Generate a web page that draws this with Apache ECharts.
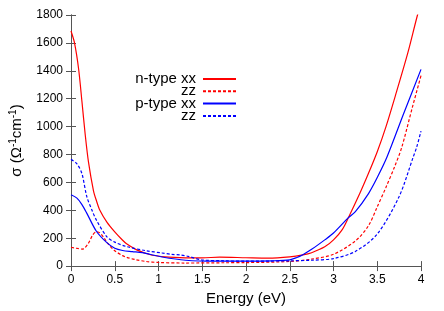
<!DOCTYPE html>
<html><head><meta charset="utf-8">
<script src="https://cdn.jsdelivr.net/npm/echarts@6/dist/echarts.min.js"></script>
<style>html,body{margin:0;padding:0;background:#fff}#c{width:444px;height:311px}</style>
</head><body><div id="c"></div>
<script>
const xTicks = [0, 0.5, 1, 1.5, 2, 2.5, 3, 3.5, 4];
const yTicks = [0, 200, 400, 600, 800, 1000, 1200, 1400, 1600, 1800];
const seriesNames = ['n-type xx', 'n-type zz', 'p-type xx', 'p-type zz'];
const legendLabels = ['n-type xx', 'zz', 'p-type xx', 'zz'];

const nTypeXX = [[0,1685],[0.04,1600],[0.087,1413],[0.125,1180],[0.162,945],[0.2,745],[0.257,540],[0.29,470],[0.33,400],[0.41,315],[0.5,245],[0.59,185],[0.635,160],[0.74,120],[0.86,90],[0.93,78],[1.12,65],[1.5,59],[1.7,64],[2.0,60],[2.25,57],[2.5,66],[2.65,80],[2.75,96],[2.9,138],[3.0,188],[3.1,262],[3.17,347],[3.3,520],[3.4,665],[3.5,820],[3.6,1000],[3.72,1249],[3.85,1530],[3.96,1800],[4.0,1880]];
const nTypeZZ = [[0,135],[0.06,128],[0.13,122],[0.2,165],[0.25,225],[0.29,245],[0.33,238],[0.38,200],[0.43,155],[0.5,110],[0.59,75],[0.635,63],[0.74,46],[0.86,33],[1.0,26],[1.3,22],[1.75,24],[2.0,25],[2.5,33],[2.75,50],[3.0,85],[3.25,180],[3.4,290],[3.5,425],[3.6,565],[3.7,715],[3.78,851],[3.9,1135],[4.0,1365]];
const pTypeXX = [[0,511],[0.068,487],[0.125,441],[0.18,380],[0.29,250],[0.41,168],[0.5,128],[0.59,112],[0.7,104],[0.815,96],[0.9,85],[1.04,65],[1.31,42],[1.64,35],[2.0,35],[2.3,38],[2.5,45],[2.575,60],[2.65,82],[2.75,120],[2.9,188],[3.0,237],[3.17,347],[3.25,390],[3.4,520],[3.5,635],[3.61,780],[3.8,1090],[4.0,1410]];
const pTypeZZ = [[0,765],[0.068,733],[0.125,663],[0.18,500],[0.24,400],[0.29,330],[0.41,210],[0.5,172],[0.635,140],[0.86,110],[1.04,94],[1.15,84],[1.25,80],[1.34,70],[1.49,45],[1.75,38],[2.0,35],[2.5,38],[2.75,42],[3.0,54],[3.25,105],[3.5,230],[3.75,499],[3.91,780],[3.95,851],[4.0,968]];

const allData = [nTypeXX, nTypeZZ, pTypeXX, pTypeZZ];
const colors = ['#ff0000', '#ff0000', '#0000ff', '#0000ff'];
const dashed = [false, true, false, true];
const axisColor = '#555';
const font = 'Liberation Sans, Arial, sans-serif';

const chart = echarts.init(document.getElementById('c'));
const xBase = {type:'value', min:xTicks[0], max:xTicks[xTicks.length-1], interval:0.5,
  axisLine:{show:true, lineStyle:{color:axisColor, width:1}},
  axisTick:{show:true, inside:true, length:5, lineStyle:{color:axisColor}},
  splitLine:{show:false}};
const yBase = {type:'value', min:yTicks[0], max:yTicks[yTicks.length-1], interval:200,
  axisLine:{show:true, lineStyle:{color:axisColor, width:1}},
  axisTick:{show:true, inside:true, length:5, lineStyle:{color:axisColor}},
  splitLine:{show:false}};

const legends = seriesNames.map((n, i) => ({
  data:[n], orient:'vertical', align:'right', right:207, top:71.5 + i*12.3,
  padding:0, itemWidth:33, itemHeight:8, itemGap:0,
  formatter: () => legendLabels[i],
  itemStyle:{color:'transparent', borderWidth:0, opacity:0},
  textStyle:{fontSize:15, fontFamily:font, color:'#000', lineHeight:13, padding:[0,2,0,0]},
  selectedMode:false
}));

chart.setOption({
  animation:false,
  grid:{left:68, right:23, top:15, bottom:40, containLabel:false},
  legend: legends,
  xAxis:[Object.assign({}, xBase, {position:'bottom', name:'Energy (eV)', nameLocation:'middle', nameGap:24,
      nameTextStyle:{fontSize:15, fontFamily:font, color:'#000'},
      axisLabel:{show:true, margin:8, fontSize:12, fontFamily:font, color:'#000',
        formatter: v => String(v)}}),
    Object.assign({}, xBase, {position:'top', axisLabel:{show:false}})],
  yAxis:[Object.assign({}, yBase, {position:'left', name:'{a|σ (Ω}{s|-1}{a|cm}{s|-1}{a|)}', nameLocation:'middle', nameGap:46, nameRotate:90,
      nameTextStyle:{fontSize:15, fontFamily:font, color:'#000',
        rich:{a:{fontSize:15, fontFamily:font, color:'#000'}, s:{fontSize:10, fontFamily:font, color:'#000', verticalAlign:'top', padding:[0,0,7,0]}}},
      axisLabel:{show:true, margin:8, fontSize:12, fontFamily:font, color:'#000', formatter: v => String(v)}}),
    Object.assign({}, yBase, {position:'right', axisLabel:{show:false}})],
  series: seriesNames.map((n, i) => ({
    name:n, type:'line', data:allData[i], showSymbol:false, symbol:'none', symbolSize:0,
    smooth:0.3, clip:true,
    lineStyle:{color:colors[i], width:1.2, type: dashed[i] ? [3,2] : 'solid'},
    itemStyle:{color:colors[i]}
  }))
});
</script></body></html>
